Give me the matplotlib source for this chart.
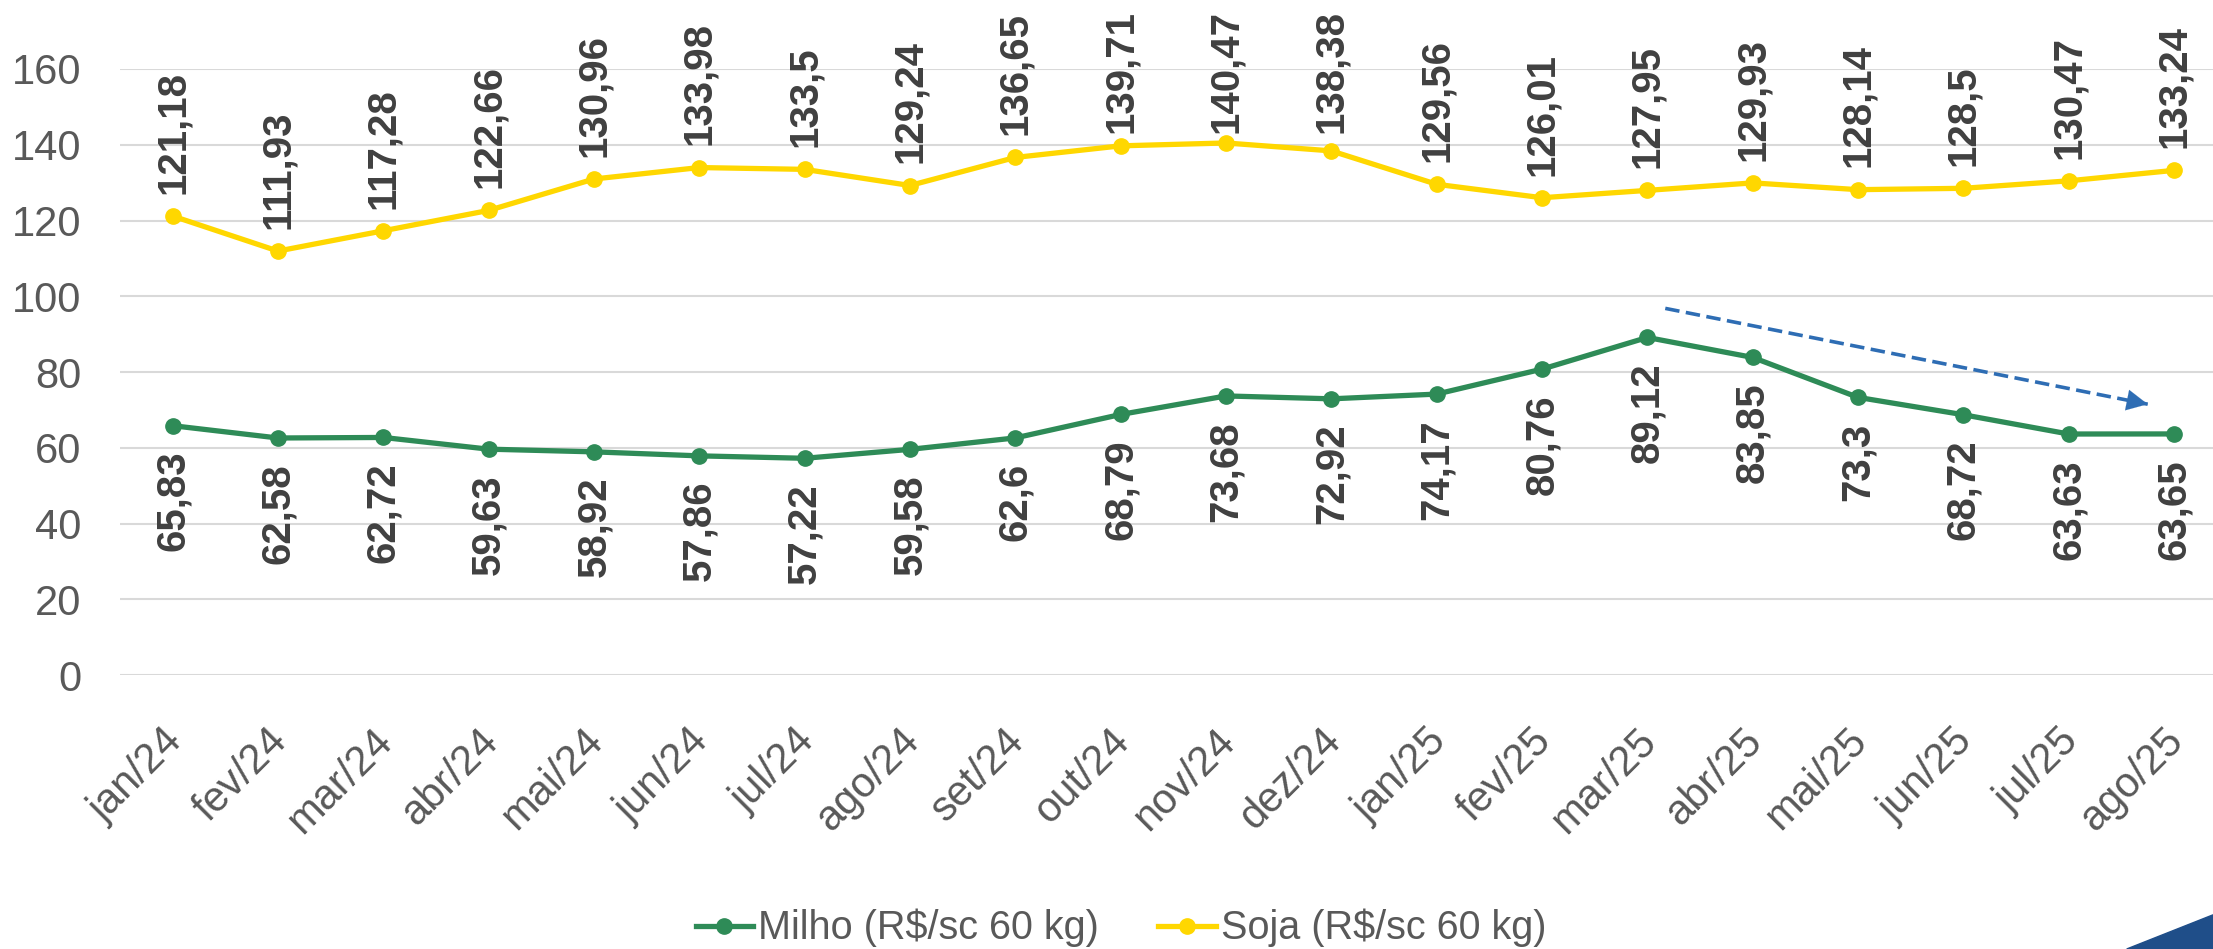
import matplotlib.pyplot as plt
from matplotlib.patches import Polygon
from matplotlib.transforms import ScaledTranslation

# Data
months = ["jan/24", "fev/24", "mar/24", "abr/24", "mai/24", "jun/24", "jul/24",
          "ago/24", "set/24", "out/24", "nov/24", "dez/24", "jan/25", "fev/25",
          "mar/25", "abr/25", "mai/25", "jun/25", "jul/25", "ago/25"]
milho = [65.83, 62.58, 62.72, 59.63, 58.92, 57.86, 57.22, 59.58, 62.6, 68.79,
         73.68, 72.92, 74.17, 80.76, 89.12, 83.85, 73.3, 68.72, 63.63, 63.65]
soja = [121.18, 111.93, 117.28, 122.66, 130.96, 133.98, 133.5, 129.24, 136.65, 139.71,
        140.47, 138.38, 129.56, 126.01, 127.95, 129.93, 128.14, 128.5, 130.47, 133.24]
yticks = [0, 20, 40, 60, 80, 100, 120, 140, 160]

# trend arrow (data coords)
arrow_start = (14.17, 96.8)
arrow_end = (18.75, 71.5)

GREEN = "#2E8B57"
YELLOW = "#FFD700"
ARROW = "#2E6DB4"
TICK_COLOR = "#595959"
LABEL_COLOR = "#404040"

plt.rcParams['font.family'] = ['Liberation Sans', 'DejaVu Sans']

DPI = 100
fig = plt.figure(figsize=(22.13, 9.49), dpi=DPI)
ax = fig.add_axes([0.0542, 0.2887, 0.952, 0.6386])

x = list(range(len(months)))
ax.plot(x, milho, color=GREEN, lw=3.8, marker="o", ms=11, label="Milho (R$/sc 60 kg)", zorder=3)
ax.plot(x, soja, color=YELLOW, lw=3.8, marker="o", ms=11, label="Soja (R$/sc 60 kg)", zorder=3)

# Data labels
soja_labels = []
for i, v in enumerate(soja):
    a = ax.annotate(str(v).replace(".", ","), (i, v), xytext=(0, 16), textcoords="offset points",
                    rotation=90, ha="center", va="bottom", fontsize=29, fontweight="bold",
                    color=LABEL_COLOR, annotation_clip=False)
    soja_labels.append(a)
for i, v in enumerate(milho):
    ax.annotate(str(v).replace(".", ","), (i, v), xytext=(0, -18), textcoords="offset points",
                rotation=90, ha="center", va="top", fontsize=29, fontweight="bold",
                color=LABEL_COLOR, annotation_clip=False)

# Trend arrow: dashed shaft + solid head
ax.plot([arrow_start[0], arrow_end[0]], [arrow_start[1], arrow_end[1]],
        color=ARROW, lw=2.6, linestyle=(0, (4, 1.8)), zorder=4)
ax.annotate("", xy=arrow_end, xytext=(arrow_end[0] - 0.15, arrow_end[1] + 0.83),
            arrowprops=dict(arrowstyle="-|>,head_length=0.5,head_width=0.25", color=ARROW,
                            lw=0.1, mutation_scale=30, shrinkA=0, shrinkB=0))

ax.set_xlim(-0.5, len(months) - 0.5)
ax.set_ylim(0, 160)
ax.set_yticks(yticks)
ax.set_xticks(x)
ax.set_xticklabels(months, rotation=45, ha="right", va="top", rotation_mode="anchor")
ax.tick_params(axis="both", length=0, labelsize=30, labelcolor=TICK_COLOR)
ax.tick_params(axis="y", pad=28)
ax.tick_params(axis="x", pad=36)
shift = ScaledTranslation(-11 / DPI, 4 / DPI, fig.dpi_scale_trans)
for lab in ax.get_xticklabels():
    lab.set_transform(lab.get_transform() + shift)
ax.grid(axis="y", color="#D9D9D9", lw=1.5)
ax.set_axisbelow(True)
for s in ax.spines.values():
    s.set_visible(False)

leg = fig.legend(loc="center", bbox_to_anchor=(0.5066, 0.022), ncol=2, frameon=False,
                 prop={"size": 28.5}, handlelength=1.45, handletextpad=0.13, columnspacing=1.5)
for t in leg.get_texts():
    t.set_color(TICK_COLOR)

# blue corner decoration
fig.patches.append(Polygon([(0.961, 0), (1, 0.036), (1, 0)], closed=True,
                           transform=fig.transFigure, color="#1F4E89", zorder=0))

# keep soja labels inside the chart area, as the spreadsheet does
fig.canvas.draw()
renderer = fig.canvas.get_renderer()
top_px = fig.bbox.height - 10
for a in soja_labels:
    bb = a.get_window_extent(renderer)
    over = bb.y1 - top_px
    if over > 0:
        a.xyann = (0, 16 - over * 72 / DPI)

fig.savefig("out.png", dpi=DPI)
